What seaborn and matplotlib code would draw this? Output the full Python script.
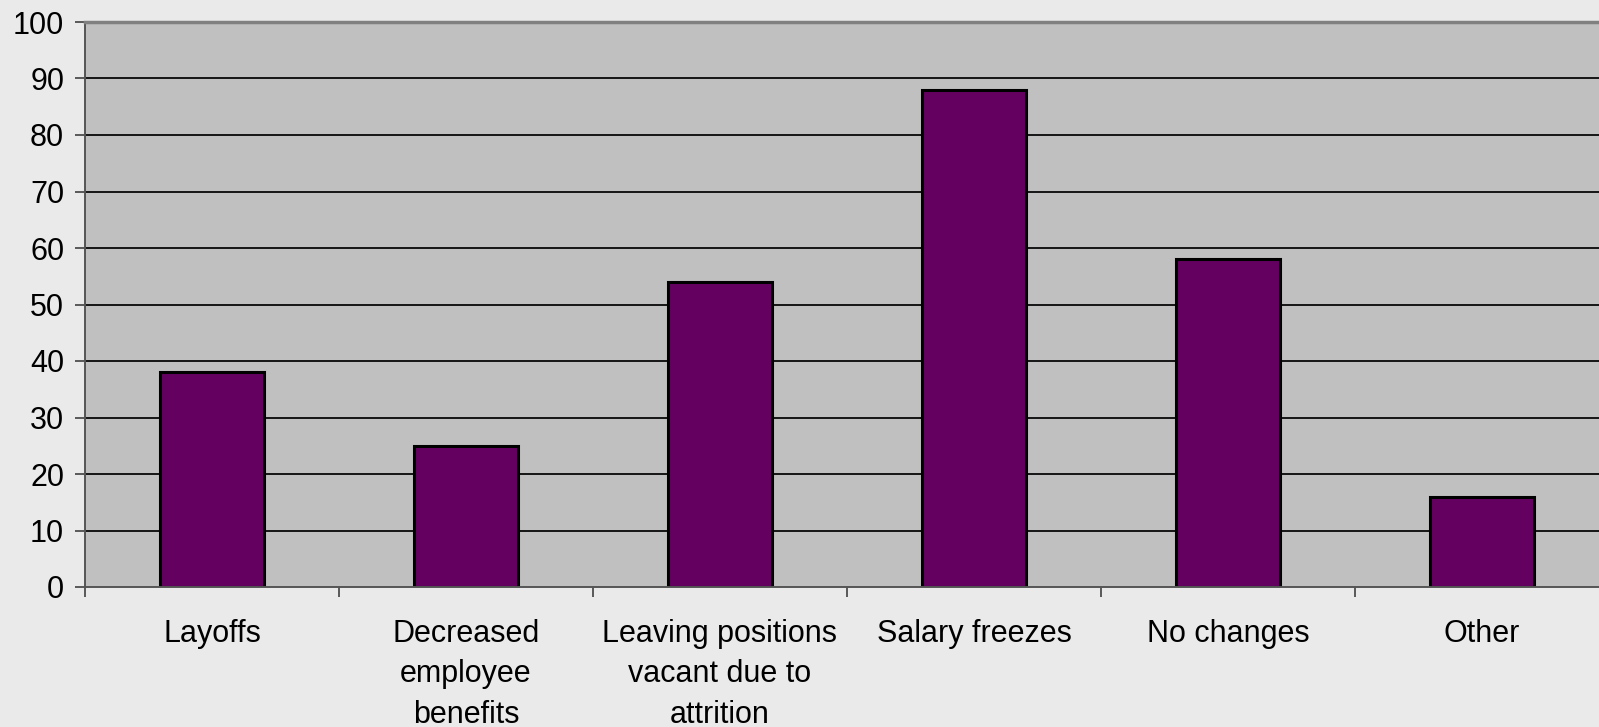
import matplotlib
matplotlib.use("Agg")
import matplotlib.pyplot as plt
import seaborn as sns
import pandas as pd
import numpy as np

categories = ["Layoffs", "Decreased\nemployee\nbenefits", "Leaving positions\nvacant due to\nattrition",
              "Salary freezes", "No changes", "Other"]
values = [38, 25, 54, 88, 58, 16]
yticks = list(range(0, 101, 10))

sns.set_theme(style="white")
plt.rcParams['font.family'] = ['Liberation Sans', 'DejaVu Sans']
plt.rcParams['text.color'] = 'black'
plt.rcParams['xtick.color'] = 'black'
plt.rcParams['ytick.color'] = 'black'

df = pd.DataFrame({"cat": categories, "val": values})

fig = plt.figure(figsize=(15.99, 7.27), dpi=100, facecolor="#EAEAEA")
ax = fig.add_axes([85/1599, 140/727, 1524/1599, 565/727])
ax.set_facecolor("#C0C0C0")

ax.set_axisbelow(True)
for t in yticks[1:-1]:
    ax.axhline(t, color="#151515", lw=1.4, zorder=0)

sns.barplot(data=df, x="cat", y="val", color="#640060", width=0.41,
            edgecolor="black", linewidth=2.2, saturation=1, ax=ax, zorder=2)

ax.set_xlim(-0.5, 5.5)
ax.set_ylim(0, 100)
ax.set_yticks(yticks)
ax.set_yticklabels([str(t) for t in yticks], fontsize=22, color="black")
ax.set_xlabel("")
ax.set_ylabel("")
ax.tick_params(axis="y", which="major", direction="out", length=7, width=1.2,
               color="#404040", pad=8, left=True)
ax.set_xticks(range(len(categories)))
ax.set_xticklabels(categories, fontsize=22, linespacing=1.45, va="top", color="black")
ax.tick_params(axis="x", which="major", length=0, pad=23)
ax.set_xticks(np.arange(-0.5, 5.6, 1.0), minor=True)
ax.tick_params(axis="x", which="minor", direction="out", length=7, width=1.2,
               color="#404040", bottom=True)

for s in ["left", "bottom"]:
    ax.spines[s].set_color("#555555")
    ax.spines[s].set_linewidth(1.4)
ax.spines["top"].set_color("#808080")
ax.spines["top"].set_linewidth(2.5)
ax.spines["right"].set_visible(False)

fig.savefig("out.png", dpi=100, facecolor=fig.get_facecolor())
